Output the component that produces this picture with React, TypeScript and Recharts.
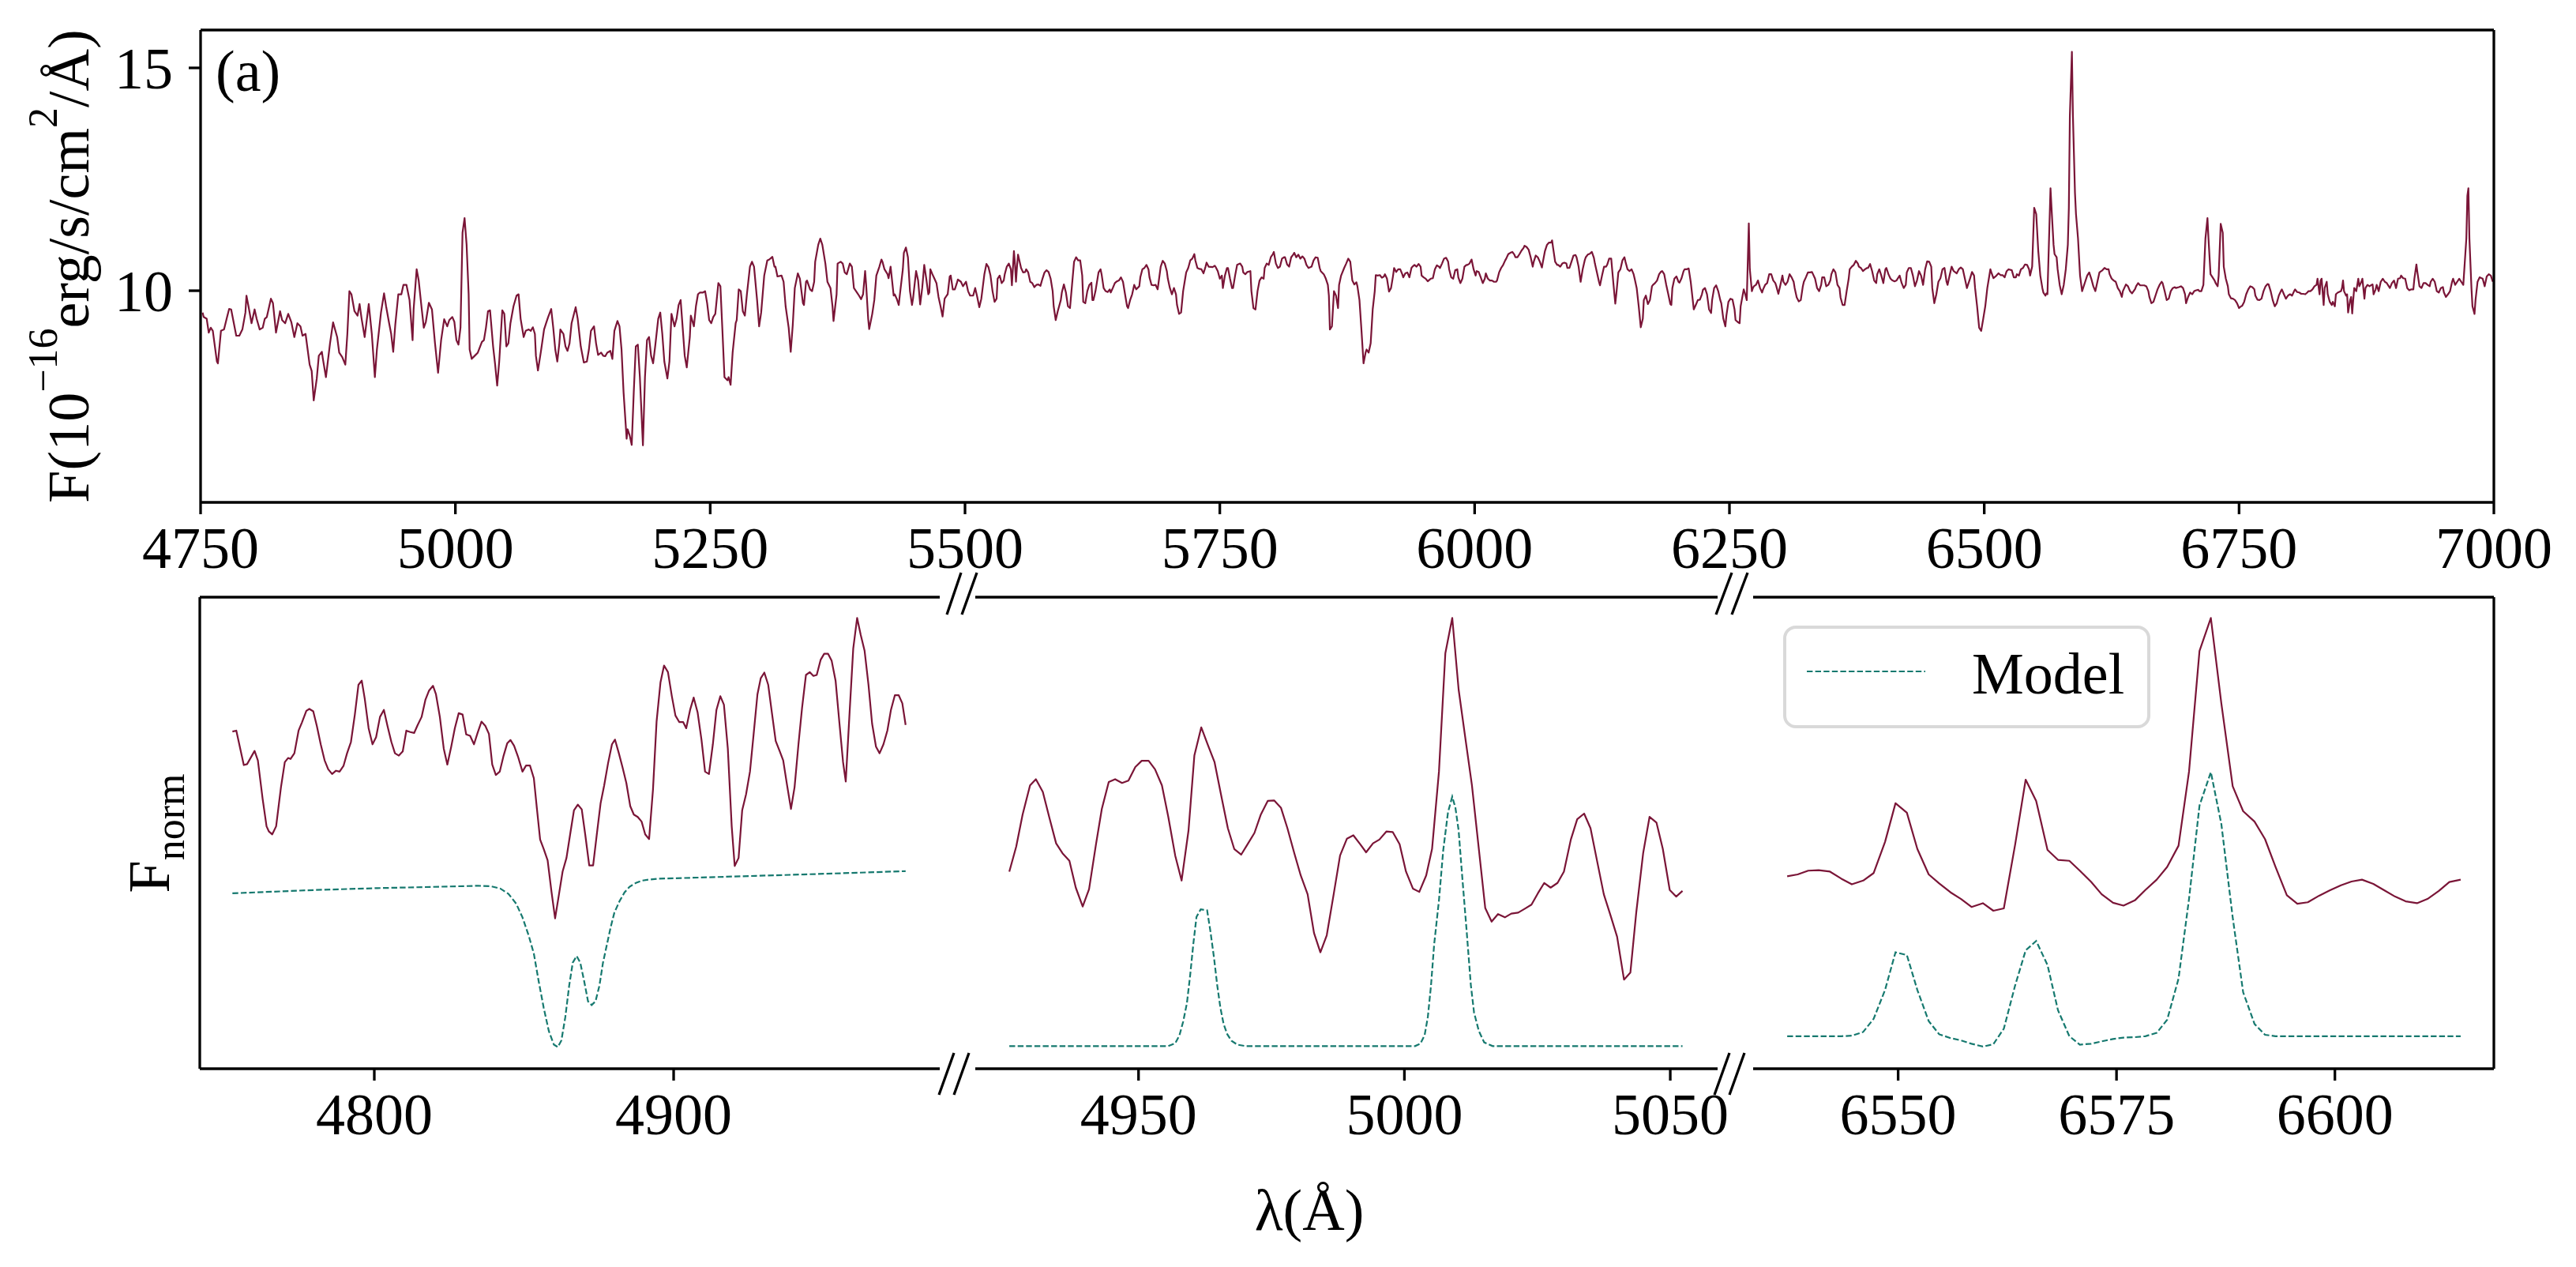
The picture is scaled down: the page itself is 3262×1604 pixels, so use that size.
import React from 'react'
import { LineChart, Line, XAxis, YAxis, Legend } from 'recharts'

const FONT = '"Liberation Serif", "Times New Roman", serif'
const OBS_COLOR = '#7a1537'
const MODEL_COLOR = '#16796f'

// (a) full spectrum: [wavelength (Å), flux (1e-16 erg/s/cm2/Å)]
const spectrumBlue = [
  [4752,9.51],[4753,9.41],[4756,9.37],[4758,9.06],[4760,9.17],[4762,9.10],[4766,8.41],[4767,8.37],[4770,9.10],[4773,9.13],
  [4776,9.41],[4778,9.59],[4780,9.58],[4785,8.99],[4788,8.99],[4791,9.13],[4794,9.51],[4795,9.89],[4797,9.65],[4800,9.27],
  [4803,9.58],[4805,9.37],[4808,9.13],[4811,9.17],[4813,9.37],[4815,9.41],[4819,9.82],[4821,9.72],[4824,9.06],[4828,9.54],
  [4830,9.34],[4833,9.27],[4836,9.48],[4839,9.30],[4842,8.96],[4845,9.27],[4848,9.20],[4850,8.99],[4853,9.03],[4857,8.34],
  [4859,8.20],[4861,7.54],[4864,8.03],[4866,8.54],[4869,8.63],[4870,8.47],[4873,8.06],[4877,8.82],[4880,9.29],[4884,8.96],
  [4886,8.61],[4889,8.51],[4892,8.34],[4894,9.03],[4896,9.99],[4898,9.92],[4901,9.54],[4904,9.44],[4906,9.70],[4908,9.37],
  [4911,8.96],[4915,9.70],[4918,9.03],[4921,8.06],[4923,8.68],[4927,9.51],[4930,9.94],[4932,9.65],[4935,9.27],[4937,9.03],
  [4939,8.63],[4941,9.23],[4944,9.92],[4947,9.92],[4949,10.13],[4952,10.13],[4955,9.79],[4958,8.89],[4959,9.58],[4962,10.48],
  [4964,10.23],[4967,9.58],[4969,9.17],[4971,9.30],[4974,9.73],[4977,9.58],[4980,8.82],[4983,8.16],[4986,8.89],[4989,9.36],
  [4992,9.20],[4994,9.34],[4997,9.41],[4999,9.30],[5001,8.89],[5003,8.79],[5005,9.17],[5007,11.30],[5009,11.63],[5011,11.03],
  [5013,9.92],[5014,8.68],[5016,8.47],[5019,8.54],[5022,8.61],[5026,8.85],[5028,8.89],[5030,9.17],[5032,9.54],[5034,9.56],
  [5037,8.75],[5039,8.34],[5041,7.87],[5043,8.41],[5046,9.56],[5048,9.48],[5050,8.75],[5052,8.82],[5054,9.27],[5057,9.65],
  [5060,9.89],[5062,9.92],[5064,9.37],[5067,8.96],[5069,9.10],[5072,9.13],[5074,9.10],[5076,9.18],[5078,9.03],[5079,8.54],
  [5081,8.21],[5084,8.65],[5087,9.13],[5089,9.27],[5091,9.41],[5094,9.59],[5096,9.17],[5098,8.68],[5100,8.41],[5102,8.82],
  [5103,9.13],[5106,9.03],[5108,8.75],[5110,8.65],[5112,8.82],[5114,9.27],[5118,9.63],[5120,9.37],[5123,8.75],[5126,8.39],
  [5129,8.41],[5131,8.68],[5133,9.10],[5136,9.20],[5138,8.82],[5140,8.56],[5143,8.61],[5145,8.54],[5147,8.53],[5149,8.61],
  [5152,8.65],[5154,8.47],[5156,9.10],[5159,9.32],[5161,9.20],[5163,8.68],[5165,7.72],[5168,6.68],[5169,6.89],[5171,6.75],
  [5173,6.54],[5175,7.72],[5177,8.75],[5179,8.79],[5181,8.06],[5184,6.53],[5186,8.06],[5188,8.89],[5190,8.96],[5192,8.54],
  [5194,8.37],[5196,8.75],[5199,9.37],[5201,9.51],[5203,9.03],[5205,8.41],[5208,8.03],[5210,8.41],[5212,9.48],[5215,9.20],
  [5217,9.37],[5219,9.68],[5221,9.79],[5223,9.17],[5225,8.54],[5227,8.28],[5230,8.96],[5231,9.44],[5234,9.20],[5236,9.65],
  [5238,9.92],[5240,9.96],[5243,9.96],[5245,9.99],[5247,9.72],[5249,9.34],[5251,9.27],[5253,9.41],[5255,9.48],[5258,10.17],
  [5260,10.10],[5262,9.10],[5264,8.06],[5267,7.99],[5268,8.06],[5270,7.89],[5272,8.61],[5275,9.27],[5276,9.34],[5278,10.03],
  [5280,9.99],[5282,9.54],[5284,9.44],[5286,9.92],[5289,10.54],[5291,10.65],[5293,10.54],[5296,9.79],[5298,9.20],[5300,9.51],
  [5303,10.34],[5306,10.68],[5308,10.70],[5311,10.76],[5313,10.54],
]

const spectrumGreen = [
  [5314,10.54],[5316,10.32],[5320,10.34],[5322,10.20],[5324,9.65],[5327,9.17],[5329,8.63],[5331,9.23],[5333,10.06],[5336,10.39],
  [5338,10.27],[5341,9.72],[5342,9.68],[5344,10.20],[5345,10.23],[5348,10.03],[5350,9.99],[5352,10.20],[5353,10.65],[5356,11.03],
  [5358,11.17],[5360,11.03],[5363,10.61],[5365,10.20],[5368,10.06],[5370,9.65],[5371,9.32],[5374,9.92],[5375,10.61],[5378,10.65],
  [5380,10.61],[5382,10.41],[5384,10.37],[5387,10.61],[5389,10.54],[5391,10.06],[5394,9.96],[5396,9.89],[5398,9.81],[5400,9.92],
  [5402,10.44],[5403,10.13],[5405,9.37],[5406,9.14],[5409,9.48],[5411,9.79],[5413,10.34],[5416,10.54],[5418,10.70],[5419,10.65],
  [5421,10.48],[5424,10.37],[5425,10.28],[5427,10.54],[5430,9.89],[5431,9.92],[5433,9.82],[5435,9.68],[5436,9.89],[5439,10.48],
  [5440,10.85],[5442,10.97],[5444,10.75],[5446,9.99],[5448,9.68],[5449,9.82],[5452,10.44],[5454,10.23],[5456,9.69],[5458,10.06],
  [5460,10.58],[5462,10.27],[5464,9.92],[5465,9.96],[5466,10.48],[5468,10.37],[5470,10.27],[5472,10.17],[5474,9.86],[5476,9.65],
  [5478,9.42],[5480,9.82],[5482,9.89],[5483,9.92],[5485,10.32],[5486,10.34],[5488,10.03],[5490,10.03],[5492,10.17],[5493,10.25],
  [5496,10.20],[5498,10.10],[5501,10.20],[5503,9.99],[5505,9.89],[5508,9.89],[5510,10.06],[5512,9.86],[5514,9.63],[5516,9.82],
  [5519,10.37],[5521,10.60],[5523,10.53],[5525,10.34],[5527,9.99],[5529,9.75],[5531,9.82],[5532,10.27],[5534,10.34],[5536,10.17],
  [5538,10.23],[5539,10.37],[5541,10.54],[5543,10.61],[5545,10.48],[5546,10.12],[5548,10.89],[5549,10.61],[5550,10.20],[5551,10.54],
  [5552,10.81],[5555,10.51],[5557,10.41],[5559,10.42],[5560,10.48],[5562,10.41],[5564,10.20],[5566,10.17],[5568,10.08],[5570,10.13],
  [5572,10.14],[5574,10.11],[5576,10.27],[5578,10.41],[5580,10.46],[5582,10.42],[5584,10.27],[5586,9.99],[5587,9.65],[5589,9.34],
  [5591,9.54],[5594,9.79],[5595,9.96],[5597,10.14],[5599,9.96],[5601,9.65],[5603,9.61],[5605,10.13],[5607,10.65],[5609,10.75],
  [5611,10.68],[5613,10.68],[5615,10.34],[5616,9.75],[5618,9.72],[5620,9.99],[5622,10.13],[5624,10.18],[5625,9.79],[5626,9.79],
  [5628,9.99],[5631,10.41],[5633,10.48],[5634,10.37],[5636,10.06],[5638,9.99],[5640,9.97],[5642,10.03],[5643,9.96],[5645,10.06],
  [5647,10.17],[5649,10.21],[5651,10.23],[5653,10.30],[5655,10.20],[5657,9.92],[5659,9.65],[5660,9.61],[5662,9.79],[5664,9.92],
  [5666,10.13],[5668,10.03],[5671,10.10],[5672,10.30],[5674,10.48],[5676,10.51],[5678,10.58],[5680,10.48],[5681,10.30],[5683,10.13],
  [5685,10.12],[5687,10.13],[5689,10.03],[5690,10.20],[5692,10.54],[5694,10.67],[5696,10.61],[5698,10.44],[5699,10.27],[5701,10.06],
  [5703,9.92],[5705,10.06],[5707,9.92],[5708,9.68],[5710,9.48],[5712,9.51],[5714,9.99],[5716,10.27],[5717,10.41],[5719,10.51],
  [5721,10.68],[5723,10.72],[5725,10.82],[5726,10.68],[5728,10.51],[5730,10.49],[5732,10.48],[5734,10.39],[5736,10.54],[5737,10.63],
  [5739,10.54],[5743,10.53],[5745,10.56],[5746,10.53],[5748,10.44],[5750,10.27],[5752,10.34],[5753,10.06],[5755,10.34],[5757,10.51],
  [5758,10.51],[5760,10.27],[5762,10.06],[5763,10.06],[5765,10.34],[5767,10.58],[5770,10.61],[5772,10.54],[5773,10.41],[5775,10.37],
  [5777,10.42],[5780,10.44],[5781,9.99],[5783,9.61],[5785,9.58],[5787,9.99],[5789,10.23],[5791,10.30],[5793,10.27],[5794,10.51],
  [5796,10.61],[5798,10.58],[5800,10.75],[5802,10.82],[5803,10.87],[5805,10.61],[5807,10.51],[5809,10.54],[5811,10.72],[5813,10.75],
  [5814,10.75],[5816,10.59],[5818,10.54],[5820,10.75],[5822,10.81],[5823,10.85],[5825,10.75],[5827,10.81],[5829,10.72],[5831,10.77],
  [5833,10.72],[5835,10.58],[5837,10.51],[5840,10.54],[5842,10.68],[5844,10.75],[5846,10.74],[5848,10.51],[5849,10.44],[5852,10.37],
  [5854,10.27],[5856,10.13],[5857,9.89],[5858,9.13],[5860,9.20],[5862,9.99],[5864,9.89],[5866,9.61],[5867,10.13],[5869,10.34],
  [5872,10.51],
]

const spectrumYellow = [
  [5874,10.61],[5876,10.72],[5878,10.65],[5880,10.23],[5882,10.14],[5884,10.19],[5885,10.10],[5887,9.79],[5889,9.10],[5891,8.37],
  [5893,8.61],[5894,8.68],[5896,8.61],[5898,8.82],[5900,9.58],[5902,9.99],[5903,10.35],[5905,10.34],[5907,10.35],[5909,10.29],
  [5911,10.32],[5912,10.37],[5914,10.27],[5916,9.98],[5918,10.06],[5920,10.34],[5921,10.51],[5923,10.42],[5925,10.48],[5927,10.48],
  [5929,10.37],[5930,10.30],[5932,10.39],[5934,10.41],[5936,10.30],[5938,10.51],[5939,10.54],[5941,10.58],[5943,10.54],[5945,10.60],
  [5947,10.54],[5948,10.34],[5950,10.30],[5952,10.27],[5954,10.21],[5956,10.25],[5957,10.27],[5959,10.28],[5961,10.48],[5963,10.57],
  [5965,10.54],[5966,10.51],[5968,10.61],[5970,10.72],[5972,10.74],[5974,10.65],[5975,10.48],[5977,10.30],[5979,10.27],[5981,10.46],
  [5983,10.48],[5984,10.30],[5986,10.17],[5988,10.27],[5990,10.54],[5992,10.58],[5993,10.58],[5995,10.61],[5997,10.70],[5999,10.48],
  [6001,10.34],[6002,10.44],[6004,10.42],[6006,10.30],[6008,10.17],[6010,10.27],[6011,10.39],[6013,10.27],[6015,10.23],[6017,10.23],
  [6019,10.20],[6021,10.20],[6022,10.23],[6024,10.41],[6026,10.51],[6028,10.58],[6030,10.68],[6031,10.72],[6033,10.82],[6035,10.85],
  [6037,10.87],[6039,10.81],[6040,10.75],[6042,10.75],[6044,10.82],[6046,10.90],[6048,10.96],[6049,11.01],[6051,10.98],[6053,10.92],
  [6055,10.75],[6057,10.54],[6058,10.65],[6060,10.79],[6062,10.75],[6064,10.65],[6066,10.52],[6067,10.65],[6069,10.89],[6071,11.03],
  [6073,11.08],[6075,11.08],[6076,11.13],[6077,10.96],[6079,10.65],[6081,10.58],[6082,10.58],[6084,10.54],[6086,10.61],[6088,10.63],
  [6090,10.61],[6091,10.51],[6093,10.51],[6095,10.65],[6097,10.79],[6099,10.80],[6100,10.75],[6102,10.54],[6104,10.20],[6106,10.48],
  [6108,10.68],[6109,10.75],[6111,10.81],[6113,10.83],[6115,10.87],[6117,10.74],[6118,10.61],[6120,10.41],[6122,10.20],[6123,10.12],
  [6125,10.34],[6127,10.54],[6129,10.54],[6130,10.58],[6132,10.72],[6134,10.72],[6136,10.20],[6138,9.71],[6139,9.92],[6141,10.41],
  [6143,10.48],[6145,10.68],[6147,10.75],[6148,10.65],[6150,10.48],[6152,10.44],[6154,10.48],[6156,10.37],[6157,10.27],[6159,10.06],
  [6161,9.65],[6163,9.18],[6165,9.37],[6166,9.79],[6168,9.89],[6170,9.70],[6172,9.79],[6174,10.10],[6175,10.13],[6177,10.17],
  [6179,10.23],[6181,10.37],[6183,10.43],[6184,10.44],[6186,10.37],[6188,10.13],[6190,9.92],[6192,9.70],[6193,9.68],[6194,10.06],
  [6196,10.27],[6198,10.32],[6200,10.20],[6201,10.18],[6203,10.28],[6205,10.44],[6206,10.48],[6208,10.48],[6210,10.50],[6212,10.20],
  [6214,9.79],[6215,9.58],[6217,9.68],[6219,9.79],[6221,9.80],[6223,9.92],[6224,10.02],[6226,10.06],[6228,9.92],[6230,9.58],
  [6232,9.50],[6233,9.79],[6235,10.06],[6237,10.12],[6239,9.99],[6241,9.79],[6242,9.72],[6244,9.37],[6246,9.20],[6247,9.44],
  [6249,9.75],[6251,9.82],[6253,9.80],[6255,9.58],[6256,9.34],[6258,9.30],[6260,9.27],[6261,9.65],[6264,10.03],[6265,9.96],
  [6267,9.79],[6269,11.51],[6270,10.48],[6272,9.99],[6273,10.06],[6274,10.10],[6276,10.13],[6278,10.23],[6280,10.06],[6282,9.96],
  [6283,10.03],[6285,10.13],[6287,10.17],[6289,10.37],[6291,10.37],[6293,10.23],[6295,10.17],[6296,10.10],[6298,9.93],[6300,10.13],
  [6302,10.34],[6303,10.20],[6305,10.13],[6307,10.20],[6309,10.37],[6311,10.30],[6313,10.20],[6314,10.06],[6316,9.85],[6318,9.76],
  [6320,9.79],[6322,10.10],[6323,10.20],[6325,10.30],[6327,10.41],[6329,10.41],[6331,10.42],[6332,10.37],[6334,10.27],[6336,10.06],
  [6338,9.99],[6340,10.13],[6341,10.30],[6343,10.30],[6345,10.10],[6347,10.13],[6349,10.23],[6350,10.37],[6352,10.48],[6354,10.41],
  [6356,10.13],[6358,10.06],[6359,9.85],[6361,9.68],[6363,9.68],[6365,9.99],[6367,10.27],[6368,10.48],[6370,10.54],[6372,10.58],
  [6374,10.67],[6376,10.61],[6377,10.54],[6379,10.51],[6381,10.44],[6383,10.48],[6385,10.51],[6386,10.51],[6388,10.60],[6390,10.44],
  [6392,10.23],[6394,10.17],[6395,10.37],[6397,10.48],[6399,10.34],[6401,10.17],[6403,10.48],[6404,10.51],[6406,10.37],[6408,10.27],
  [6410,10.23],[6412,10.21],[6414,10.23],[6415,10.27],[6417,10.34],[6419,10.17],[6421,10.06],[6423,10.13],[6424,10.41],[6426,10.51],
  [6428,10.51],
]

const spectrumRed = [
  [6430,10.34],[6432,10.10],[6434,10.23],[6436,10.44],[6438,10.34],[6440,10.13],[6442,10.48],[6444,10.66],[6446,10.65],[6448,10.54],
  [6449,10.06],[6451,9.72],[6453,9.92],[6455,10.20],[6457,10.28],[6459,10.48],[6461,10.51],[6463,10.20],[6464,10.13],[6466,10.34],
  [6468,10.54],[6470,10.44],[6473,10.39],[6475,10.48],[6477,10.52],[6479,10.48],[6481,10.27],[6483,10.06],[6486,10.27],[6488,10.42],
  [6490,10.34],[6491,10.06],[6493,9.65],[6495,9.17],[6497,9.10],[6499,9.37],[6501,9.65],[6503,10.06],[6506,10.48],[6507,10.41],
  [6509,10.28],[6512,10.34],[6514,10.39],[6516,10.35],[6518,10.35],[6520,10.30],[6522,10.44],[6524,10.48],[6527,10.46],[6529,10.30],
  [6531,10.30],[6532,10.37],[6534,10.34],[6536,10.48],[6538,10.51],[6540,10.59],[6542,10.58],[6544,10.48],[6545,10.34],[6547,10.54],
  [6549,11.86],[6551,11.72],[6553,10.89],[6555,10.34],[6557,10.06],[6558,9.96],[6560,9.89],[6561,9.94],[6562,9.92],[6565,12.30],
  [6566,11.86],[6568,11.03],[6569,10.82],[6571,10.75],[6572,10.48],[6574,10.13],[6576,9.92],[6578,10.13],[6580,10.48],[6582,11.03],
  [6583,11.86],[6584,13.92],[6586,15.36],[6587,13.92],[6589,12.20],[6590,11.72],[6592,11.17],[6594,10.34],[6596,9.99],[6597,10.06],
  [6599,10.20],[6601,10.34],[6603,10.41],[6605,10.27],[6607,10.10],[6609,9.99],[6611,10.20],[6613,10.41],[6616,10.46],[6618,10.51],
  [6620,10.48],[6622,10.48],[6623,10.37],[6625,10.27],[6627,10.23],[6629,10.20],[6631,10.06],[6633,9.99],[6635,9.86],[6636,9.99],
  [6639,10.14],[6641,10.10],[6643,9.99],[6645,9.94],[6648,10.04],[6649,10.10],[6651,10.17],[6653,10.12],[6655,10.12],[6657,10.12],
  [6659,10.10],[6661,9.99],[6662,9.86],[6664,9.72],[6666,9.75],[6668,9.89],[6670,10.03],[6672,10.13],[6674,10.20],[6675,10.17],
  [6677,9.99],[6679,9.79],[6681,9.82],[6683,9.99],[6685,10.06],[6687,10.08],[6688,10.06],[6691,10.08],[6693,10.10],[6695,10.06],
  [6697,9.92],[6698,9.72],[6700,9.86],[6702,9.96],[6704,9.92],[6706,9.99],[6708,10.01],[6710,10.02],[6711,9.99],[6713,9.99],
  [6715,10.13],[6717,11.17],[6719,11.63],[6720,11.17],[6722,10.37],[6724,10.30],[6726,10.23],[6727,10.17],[6729,10.10],[6730,10.34],
  [6732,11.50],[6734,11.30],[6735,10.54],[6737,10.27],[6739,10.10],[6740,9.92],[6742,9.83],[6744,9.82],[6746,9.79],[6748,9.72],
  [6750,9.61],[6752,9.65],[6753,9.66],[6755,9.75],[6757,9.92],[6759,10.03],[6761,10.10],[6763,10.08],[6765,10.03],[6766,9.89],
  [6768,9.80],[6770,9.79],[6772,9.82],[6774,9.99],[6776,10.10],[6778,10.15],[6779,10.14],[6781,9.99],[6783,9.79],[6785,9.65],
  [6787,9.72],[6789,9.89],[6791,9.99],[6792,10.03],[6794,9.92],[6796,9.82],[6798,9.89],[6800,9.92],[6802,9.89],[6804,9.99],
  [6805,10.03],[6807,9.97],[6809,9.96],[6811,9.93],[6813,9.93],[6815,9.92],[6817,9.96],[6818,9.99],[6820,9.99],[6822,10.03],
  [6824,10.10],[6826,10.13],[6827,10.27],[6829,9.92],[6830,10.23],[6831,10.27],[6833,9.68],[6834,10.06],[6836,10.20],[6837,9.92],
  [6839,9.75],[6841,9.68],[6842,9.75],[6844,9.65],[6845,9.92],[6847,9.96],[6848,9.97],[6850,9.99],[6851,10.06],[6852,10.23],
  [6853,9.99],[6855,9.89],[6856,9.92],[6857,9.51],[6859,9.79],[6860,9.86],[6861,9.49],[6862,9.79],[6863,10.06],[6865,9.99],
  [6867,10.27],[6868,10.10],[6870,10.20],[6871,10.27],[6873,9.82],[6874,10.06],[6876,10.13],[6878,10.10],[6880,10.13],[6881,10.14],
  [6882,9.92],[6884,10.03],[6885,10.13],[6887,9.99],[6889,10.20],[6891,10.27],[6893,10.20],[6895,10.17],[6896,10.13],[6898,10.06],
  [6900,10.17],[6902,10.23],[6904,10.06],[6906,10.27],[6908,10.28],[6909,10.34],[6911,10.28],[6913,10.27],[6915,10.06],[6917,10.01],
  [6919,10.03],[6921,10.03],[6922,10.27],[6924,10.59],[6925,10.41],[6927,10.10],[6929,10.06],[6931,10.17],[6933,10.17],[6935,10.13],
  [6937,10.10],[6938,10.20],[6940,10.27],[6942,10.20],[6944,9.99],[6946,9.96],[6948,10.06],[6950,10.08],[6951,9.96],[6953,9.86],
  [6955,9.92],[6957,9.99],[6959,10.20],[6960,10.27],[6962,10.13],[6964,10.20],[6966,10.27],[6968,10.20],[6970,10.13],[6971,10.48],
  [6973,11.17],[6974,12.13],[6975,12.30],[6976,11.17],[6978,10.06],[6979,9.65],[6981,9.48],[6982,9.79],[6984,10.20],[6986,10.30],
  [6988,10.28],[6989,10.27],[6991,10.10],[6993,10.32],[6995,10.37],[6997,10.34],[6999,10.20],
]

const spectrumTicks = [4750, 5000, 5250, 5500, 5750, 6000, 6250, 6500, 6750, 7000]
const fluxTicks = [10, 15]

// zoom windows: [wavelength (Å), normalised flux, arbitrary offset per panel]
const hbObserved = [
  [4752.6,0.715],[4753.9,0.717],[4756.4,0.644],[4757.5,0.646],[4760.0,0.674],[4761.1,0.654],[4762.7,0.572],[4764.0,0.514],[4764.8,0.503],[4765.9,0.497],
  [4767.2,0.514],[4768.8,0.596],[4770.1,0.650],[4771.2,0.659],[4772.0,0.657],[4773.3,0.669],[4774.7,0.717],[4775.8,0.734],[4777.3,0.759],[4778.3,0.763],
  [4779.6,0.758],[4780.8,0.727],[4782.1,0.688],[4783.4,0.654],[4784.6,0.635],[4785.9,0.625],[4787.2,0.632],[4788.4,0.630],[4789.7,0.642],[4790.9,0.669],
  [4792.2,0.693],[4793.5,0.751],[4794.7,0.814],[4795.8,0.823],[4796.8,0.785],[4798.1,0.722],[4799.4,0.688],[4800.6,0.703],[4801.9,0.746],[4803.2,0.761],
  [4804.4,0.727],[4805.7,0.693],[4806.9,0.669],[4808.2,0.664],[4809.5,0.673],[4810.7,0.717],[4812.0,0.714],[4813.3,0.712],[4814.5,0.729],[4815.8,0.746],
  [4817.1,0.783],[4818.3,0.802],[4819.6,0.812],[4820.6,0.794],[4821.9,0.746],[4823.2,0.679],[4824.4,0.645],[4825.7,0.683],[4826.9,0.722],[4828.2,0.754],
  [4829.5,0.751],[4830.7,0.709],[4832.0,0.706],[4833.3,0.688],[4834.5,0.712],[4835.8,0.736],[4837.1,0.727],[4838.3,0.710],[4839.4,0.645],[4840.6,0.623],
  [4841.9,0.630],[4843.2,0.664],[4844.4,0.690],[4845.5,0.697],[4846.7,0.685],[4848.0,0.662],[4849.5,0.630],[4850.7,0.643],[4852.0,0.643],[4853.3,0.616],
  [4854.3,0.553],[4855.4,0.486],[4856.6,0.466],[4857.9,0.442],[4859.2,0.375],[4860.4,0.319],[4861.7,0.370],[4862.9,0.418],[4864.2,0.447],[4865.5,0.500],
  [4866.7,0.548],[4868.0,0.560],[4869.3,0.550],[4870.5,0.495],[4871.8,0.431],[4873.1,0.431],[4874.3,0.495],[4875.6,0.563],[4876.8,0.601],[4878.1,0.648],
  [4879.4,0.688],[4880.4,0.698],[4881.7,0.669],[4882.9,0.640],[4884.2,0.606],[4885.5,0.557],[4886.7,0.539],[4888.0,0.534],[4889.3,0.524],[4890.5,0.497],
  [4891.8,0.487],[4893.1,0.592],[4894.3,0.736],[4895.6,0.819],[4896.8,0.855],[4898.1,0.841],[4899.4,0.790],[4900.6,0.749],[4901.9,0.735],[4903.2,0.735],
  [4904.2,0.722],[4905.5,0.761],[4906.7,0.787],[4908.0,0.756],[4909.3,0.698],[4910.5,0.630],[4911.8,0.625],[4913.1,0.688],[4914.3,0.761],[4915.6,0.790],
  [4916.8,0.772],[4918.1,0.679],[4919.4,0.514],[4920.4,0.430],[4921.7,0.447],[4922.9,0.548],[4924.2,0.582],[4925.5,0.630],[4926.7,0.708],[4928.0,0.794],
  [4929.1,0.828],[4930.3,0.840],[4931.6,0.814],[4932.8,0.756],[4934.1,0.695],[4935.4,0.674],[4936.6,0.654],[4937.9,0.601],[4939.2,0.551],[4940.4,0.597],
  [4941.7,0.688],[4942.9,0.765],[4944.2,0.835],[4945.5,0.841],[4946.7,0.833],[4947.8,0.835],[4949.1,0.867],[4950.3,0.880],[4951.6,0.880],[4952.8,0.865],
  [4954.1,0.823],[4955.4,0.732],[4956.6,0.650],[4957.5,0.609],[4958.7,0.746],[4960.0,0.891],[4961.3,0.956],[4962.5,0.920],[4963.8,0.886],[4965.1,0.814],
  [4966.3,0.732],[4967.6,0.683],[4968.8,0.669],[4970.1,0.688],[4971.4,0.717],[4972.6,0.761],[4973.9,0.792],[4975.2,0.792],[4976.4,0.775],[4977.5,0.729],
]

const hbModel = [
  [4752.6,0.372],[4780.0,0.379],[4801.1,0.383],[4822.1,0.386],[4834.7,0.388],[4838.9,0.387],[4842.1,0.382],[4844.8,0.371],[4847.4,0.350],[4849.5,0.321],
  [4851.6,0.282],[4853.3,0.244],[4854.9,0.186],[4856.6,0.129],[4858.3,0.080],[4860.0,0.051],[4861.3,0.046],[4862.5,0.060],[4863.8,0.109],[4865.1,0.176],
  [4866.3,0.225],[4867.6,0.239],[4868.8,0.225],[4870.1,0.186],[4871.4,0.143],[4872.6,0.135],[4873.9,0.143],[4875.2,0.176],[4876.4,0.225],[4877.7,0.263],
  [4879.0,0.301],[4880.2,0.331],[4881.9,0.355],[4883.6,0.374],[4885.3,0.386],[4887.4,0.394],[4889.5,0.399],[4891.6,0.401],[4894.7,0.403],[4906.3,0.405],
  [4927.4,0.409],[4948.4,0.413],[4977.5,0.419],
]

const oiiiObserved = [
  [4925.7,0.418],[4927.0,0.471],[4928.2,0.539],[4929.6,0.601],[4930.7,0.614],[4932.0,0.587],[4933.2,0.534],[4934.5,0.478],[4935.7,0.457],[4937.0,0.441],
  [4938.2,0.384],[4939.5,0.344],[4940.7,0.381],[4942.0,0.476],[4943.1,0.551],[4944.4,0.608],[4945.6,0.614],[4946.9,0.606],[4948.1,0.611],[4949.4,0.640],
  [4950.6,0.653],[4951.9,0.653],[4953.1,0.635],[4954.4,0.601],[4955.6,0.534],[4956.9,0.452],[4958.1,0.399],[4959.4,0.505],[4960.5,0.664],[4961.8,0.724],
  [4963.0,0.688],[4964.3,0.650],[4965.5,0.582],[4966.8,0.510],[4968.0,0.466],[4969.3,0.454],[4970.5,0.476],[4971.8,0.500],[4973.0,0.539],[4974.3,0.568],
  [4975.5,0.569],[4976.8,0.553],[4978.0,0.510],[4979.3,0.457],[4980.5,0.410],[4981.8,0.370],[4983.0,0.288],[4984.2,0.247],[4985.4,0.283],[4986.7,0.370],
  [4987.9,0.452],[4989.2,0.488],[4990.4,0.495],[4991.7,0.476],[4992.8,0.459],[4994.1,0.478],[4995.3,0.486],[4996.6,0.503],[4997.8,0.502],[4999.1,0.476],
  [5000.3,0.418],[5001.6,0.382],[5002.8,0.375],[5004.1,0.410],[5005.2,0.466],[5006.5,0.630],[5007.7,0.881],[5009.0,0.956],[5010.2,0.804],[5011.5,0.698],
  [5012.7,0.601],[5014.0,0.466],[5015.2,0.341],[5016.4,0.312],[5017.6,0.328],[5018.9,0.321],[5020.1,0.329],[5021.4,0.331],[5022.6,0.339],[5023.9,0.348],
  [5025.1,0.372],[5026.3,0.394],[5027.5,0.384],[5028.8,0.394],[5030.0,0.418],[5031.3,0.486],[5032.5,0.529],[5033.8,0.541],[5035.0,0.510],[5036.3,0.437],
  [5037.5,0.370],[5038.8,0.324],[5040.0,0.280],[5041.3,0.189],[5042.5,0.204],[5043.6,0.331],[5044.9,0.457],[5046.1,0.534],[5047.4,0.522],[5048.6,0.466],
  [5049.9,0.379],[5051.1,0.365],[5052.3,0.377],
]

const oiiiModel = [
  [4925.7,0.048],[4955.6,0.048],[4956.9,0.054],[4957.7,0.071],[4958.4,0.100],[4959.1,0.139],[4959.7,0.197],[4960.3,0.264],[4960.9,0.322],[4961.7,0.338],
  [4962.9,0.336],[4963.5,0.293],[4964.2,0.235],[4964.8,0.177],[4965.4,0.129],[4966.0,0.095],[4966.7,0.073],[4967.5,0.059],[4968.6,0.051],[4970.2,0.048],
  [5002.0,0.048],[5003.0,0.053],[5003.8,0.071],[5004.4,0.109],[5005.0,0.176],[5005.6,0.264],[5006.5,0.357],[5007.3,0.463],[5008.2,0.544],[5009.0,0.577],
  [5009.6,0.553],[5010.2,0.505],[5010.8,0.418],[5011.7,0.293],[5012.5,0.177],[5013.1,0.119],[5014.0,0.080],[5015.0,0.056],[5016.6,0.048],[5052.3,0.048],
]

const haObserved = [
  [6537.3,0.408],[6538.5,0.412],[6539.7,0.420],[6540.9,0.421],[6542.2,0.418],[6543.5,0.403],[6544.7,0.391],[6546.0,0.399],[6547.2,0.415],[6548.5,0.481],
  [6549.7,0.563],[6551.0,0.543],[6552.2,0.466],[6553.5,0.412],[6554.7,0.393],[6556.0,0.374],[6557.2,0.360],[6558.4,0.343],[6559.7,0.351],[6560.9,0.335],
  [6562.1,0.340],[6563.4,0.476],[6564.6,0.613],[6565.8,0.568],[6567.1,0.464],[6568.3,0.443],[6569.6,0.441],[6570.8,0.420],[6572.1,0.396],[6573.3,0.370],
  [6574.6,0.352],[6575.8,0.346],[6577.1,0.357],[6578.3,0.379],[6579.6,0.401],[6580.8,0.428],[6582.1,0.473],[6583.3,0.630],[6584.5,0.886],[6585.8,0.956],
  [6587.0,0.775],[6588.3,0.599],[6589.5,0.546],[6590.8,0.524],[6592.0,0.487],[6593.2,0.428],[6594.5,0.368],[6595.7,0.350],[6596.9,0.353],[6598.2,0.367],
  [6599.4,0.378],[6600.7,0.389],[6601.9,0.397],[6603.1,0.401],[6604.4,0.392],[6605.6,0.379],[6606.9,0.365],[6608.1,0.355],[6609.4,0.351],[6610.6,0.360],
  [6611.9,0.377],[6613.1,0.396],[6614.4,0.401],
]

const haModel = [
  [6537.3,0.069],[6543.5,0.069],[6544.7,0.070],[6546.0,0.078],[6547.2,0.106],[6548.5,0.167],[6549.7,0.247],[6551.0,0.241],[6552.2,0.167],[6553.5,0.101],
  [6554.7,0.073],[6556.0,0.065],[6557.2,0.060],[6558.4,0.053],[6559.7,0.047],[6560.9,0.052],[6562.1,0.085],[6563.4,0.177],[6564.6,0.251],[6565.8,0.271],
  [6567.1,0.220],[6568.3,0.124],[6569.6,0.069],[6570.8,0.051],[6572.1,0.053],[6573.3,0.058],[6574.6,0.063],[6575.8,0.066],[6577.1,0.067],[6578.3,0.069],
  [6579.6,0.076],[6580.8,0.104],[6582.1,0.191],[6583.3,0.360],[6584.5,0.558],[6585.8,0.629],[6587.0,0.519],[6588.3,0.321],[6589.5,0.162],[6590.8,0.095],
  [6592.0,0.072],[6593.2,0.069],[6614.4,0.069],
]

const hbTicks = [4800, 4900]
const oiiiTicks = [4950, 5000, 5050]
const haTicks = [6550, 6575, 6600]

const toRows = (pts: number[][]) => pts.map(([x, y]) => ({ x, y }))

const spectrumRows = toRows([...spectrumBlue, ...spectrumGreen, ...spectrumYellow, ...spectrumRed])

const W = 3262
const spine = { stroke: '#000', strokeWidth: 3.3 }
const tickFont = { fill: '#000', fontSize: 74, fontFamily: FONT }
const DASH = '7.4 3.2'

function SpectrumPanel() {
  // plot box: x 254..3158, y 38..636 ; the 1px top/right axes only carry the frame line
  return (
    <LineChart width={W} height={760} margin={{ top: 37, right: 103, bottom: 24, left: 54 }}>
      <XAxis dataKey="x" type="number" domain={[4750, 7000]} allowDataOverflow ticks={spectrumTicks} interval={0}
        height={100} tickSize={15} tickMargin={15} axisLine={spine} tickLine={spine} tick={tickFont} />
      <XAxis xAxisId="top" orientation="top" dataKey="x" type="number" domain={[4750, 7000]} allowDataOverflow
        height={1} tick={false} tickLine={false} axisLine={spine} />
      <YAxis type="number" domain={[5.25, 15.85]} allowDataOverflow ticks={fluxTicks} interval={0}
        width={200} tickSize={15} tickMargin={20} axisLine={spine} tickLine={spine} tick={tickFont} />
      <YAxis yAxisId="right" orientation="right" type="number" domain={[5.25, 15.85]} allowDataOverflow
        width={1} tick={false} tickLine={false} axisLine={spine} />
      <Line data={spectrumRows} dataKey="y" stroke={OBS_COLOR} strokeWidth={2.2} strokeLinejoin="round"
        dot={false} activeDot={false} isAnimationActive={false} />
    </LineChart>
  )
}

const ModelLegend = (props: any) => {
  const items = (props.payload || []).filter((p: any) => p.type !== 'none')
  return (
    <div style={{ boxSizing: 'border-box', width: 465, height: 130, border: '4px solid #d9d9d9', borderRadius: 16,
      background: 'rgba(255,255,255,0.8)', position: 'relative' }}>
      {items.map((p: any) => (
        <React.Fragment key={p.value}>
          <svg width={150} height={8} style={{ position: 'absolute', left: 26, top: 50 }}>
            <line x1={0} y1={4} x2={150} y2={4} stroke={p.color} strokeWidth={2.2} strokeDasharray={DASH} />
          </svg>
          <span style={{ position: 'absolute', left: 235, top: 20, fontSize: 74, lineHeight: 1, fontFamily: FONT, color: '#000' }}>
            {p.value}
          </span>
        </React.Fragment>
      ))}
    </div>
  )
}

type ZoomProps = {
  observed: number[][]
  model: number[][]
  domain: [number, number]
  ticks: number[]
  plotLeft: number
  plotRight: number
  edge: 'left' | 'none' | 'right'
  withLegend?: boolean
}

function ZoomPanel({ observed, model, domain, ticks, plotLeft, plotRight, edge, withLegend }: ZoomProps) {
  // plot box: y 756..1353 (page), chart placed at page y 700
  const side = edge === 'none' ? 0 : 1
  return (
    <LineChart width={W} height={800} margin={{
      top: 55, bottom: 47,
      left: plotLeft - (edge === 'left' ? side : 0),
      right: W - plotRight - (edge === 'right' ? side : 0),
    }}>
      <XAxis dataKey="x" type="number" domain={domain} allowDataOverflow ticks={ticks} interval={0}
        height={100} tickSize={15} tickMargin={15} axisLine={spine} tickLine={spine} tick={tickFont} />
      <XAxis xAxisId="top" orientation="top" dataKey="x" type="number" domain={domain} allowDataOverflow
        height={1} tick={false} tickLine={false} axisLine={spine} />
      <YAxis type="number" domain={[0, 1]} allowDataOverflow width={side} orientation={edge === 'right' ? 'right' : 'left'}
        hide={edge === 'none'} tick={false} tickLine={false} axisLine={spine} />
      <Line data={toRows(observed)} dataKey="y" stroke={OBS_COLOR} strokeWidth={2.2} strokeLinejoin="round"
        dot={false} activeDot={false} legendType="none" isAnimationActive={false} />
      <Line data={toRows(model)} dataKey="y" name="Model" stroke={MODEL_COLOR} strokeWidth={2.2} strokeDasharray={DASH}
        dot={false} activeDot={false} legendType="line" isAnimationActive={false} />
      {withLegend && (
        <Legend layout="horizontal" verticalAlign="middle" align="center" content={ModelLegend}
          wrapperStyle={{ left: 2258, top: 92, width: 465, height: 130 }} />
      )}
    </LineChart>
  )
}

const breakMarks = [
  [1199, 778, 1217, 725], [1218, 778, 1237, 725],
  [2173, 778, 2193, 725], [2193, 778, 2213, 725],
  [1189, 1386, 1208, 1333], [1208, 1386, 1227, 1333],
  [2171, 1386, 2190, 1333], [2190, 1386, 2209, 1333],
]

export default function App() {
  const abs = { position: 'absolute' as const, left: 0 }
  return (
    <div style={{ position: 'absolute', left: 0, top: 0, width: W, height: 1604, background: '#fff', overflow: 'hidden' }}>
      <div style={{ ...abs, top: 0 }}><SpectrumPanel /></div>
      <div style={{ ...abs, top: 700 }}>
        <ZoomPanel observed={hbObserved} model={hbModel} domain={[4741.7, 4988.9]} ticks={hbTicks} plotLeft={253} plotRight={1190} edge="left" />
      </div>
      <div style={{ ...abs, top: 700 }}>
        <ZoomPanel observed={oiiiObserved} model={oiiiModel} domain={[4919.3, 5058.9]} ticks={oiiiTicks} plotLeft={1235} plotRight={2175} edge="none" />
      </div>
      <div style={{ ...abs, top: 700 }}>
        <ZoomPanel observed={haObserved} model={haModel} domain={[6533.4, 6618.2]} ticks={haTicks} plotLeft={2220} plotRight={3158} edge="right" withLegend />
      </div>
      <svg width={W} height={1604} style={{ ...abs, top: 0, pointerEvents: 'none' }} fontFamily={FONT} fill="#000">
        <text x={273} y={115} fontSize={74}>(a)</text>
        <text transform="translate(112,337) rotate(-90)" textAnchor="middle" fontSize={74}>
          F(10<tspan dy={-40} fontSize={52}>−16</tspan><tspan dy={40}>erg/s/cm</tspan><tspan dy={-40} fontSize={52}>2</tspan><tspan dy={40}>/Å)</tspan>
        </text>
        <text transform="translate(214,1055) rotate(-90)" textAnchor="middle" fontSize={74}>
          F<tspan dy={19} fontSize={52}>norm</tspan>
        </text>
        <text x={1658} y={1557} textAnchor="middle" fontSize={74}>λ(Å)</text>
        {breakMarks.map(([x1, y1, x2, y2], i) => (
          <line key={i} x1={x1} y1={y1} x2={x2} y2={y2} stroke="#000" strokeWidth={3.3} />
        ))}
      </svg>
    </div>
  )
}
